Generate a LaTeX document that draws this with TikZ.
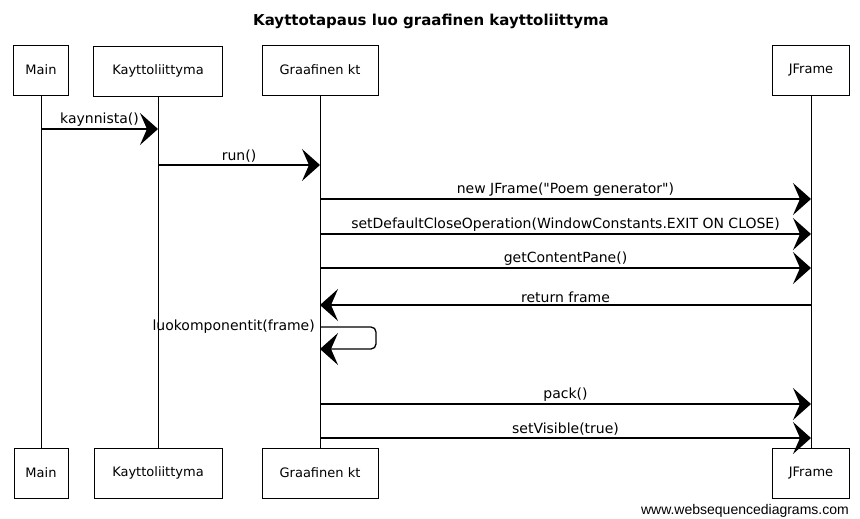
\documentclass[tikz,border=0pt]{standalone}
\usepackage{fontspec}
\setmainfont{DejaVu Sans}[Ligatures=TeXOff]
\newfontfamily\sitefont{Liberation Sans}
\usetikzlibrary{arrows.meta}

\begin{document}
\begin{tikzpicture}[x=1pt,y=-1pt,
    actor/.style = {draw, line width=0.9pt, minimum height=50pt, inner sep=0pt, font=\fontsize{13}{15}\selectfont},
    lifeline/.style = {line width=0.7pt},
    msg/.style = {line width=1.3pt, -{Stealth[length=18pt,width=32pt,inset=7pt]}},
    lbl/.style = {font=\fontsize{14}{16}\selectfont, inner sep=2pt}]
\useasboundingbox (0,0) rectangle (860,519);

\node[font=\bfseries\fontsize{15}{17}\selectfont] (title) at (431,21) {Kayttotapaus luo graafinen kayttoliittyma};

% actors, top and bottom
\begin{scope}
    \node[actor, minimum width=55pt] (mainTop) at (41,70) {Main};
    \node[actor, minimum width=129pt] (kliTop) at (158,71) {Kayttoliittyma};
    \node[actor, minimum width=116pt] (gktTop) at (320,70) {Graafinen kt};
    \node[actor, minimum width=77pt] (jfTop) at (811,70) {JFrame};
    \node[actor, minimum width=54pt] (mainBot) at (41,473) {Main};
    \node[actor, minimum width=128pt] (kliBot) at (158,473) {Kayttoliittyma};
    \node[actor, minimum width=116pt] (gktBot) at (320,473) {Graafinen kt};
    \node[actor, minimum width=77pt] (jfBot) at (811,473) {JFrame};
\end{scope}

\draw [lifeline] (mainTop) -- (mainBot);
\draw [lifeline] (kliTop) -- (kliBot);
\draw [lifeline] (gktTop) -- (gktBot);
\draw [lifeline] (jfTop) -- (jfBot);

% points on the lifelines
\coordinate (m1) at (41,129);   \coordinate (k1) at (158,129);
\coordinate (k2) at (158,165);  \coordinate (g2) at (320,165);
\coordinate (g3) at (320,199);  \coordinate (j3) at (811,199);
\coordinate (g4) at (320,234);  \coordinate (j4) at (811,234);
\coordinate (g5) at (320,268);  \coordinate (j5) at (811,268);
\coordinate (j6) at (811,305);  \coordinate (g6) at (320,305);
\coordinate (g7) at (320,327);  \coordinate (g8) at (320,349);
\coordinate (g9) at (320,404);  \coordinate (j9) at (811,404);
\coordinate (g10) at (320,438); \coordinate (j10) at (811,438);

\draw [msg] (m1) -- node[lbl, above] (tKaynnista) {kaynnista()} (k1);
\draw [msg] (k2) -- node[lbl, above] (tRun) {run()} (g2);
\draw [msg] (g3) -- node[lbl, above] (tNew) {new JFrame("Poem generator")} (j3);
\draw [msg] (g4) -- node[lbl, above] (tClose) {setDefaultCloseOperation(WindowConstants.EXIT ON CLOSE)} (j4);
\draw [msg] (g5) -- node[lbl, above] (tPane) {getContentPane()} (j5);
\draw [msg] (j6) -- node[lbl, above] (tReturn) {return frame} (g6);
\draw [msg, rounded corners=5pt] (g7) -- (376,327) -- (376,349) -- (g8);
\node[lbl, anchor=east] (tLuo) at (317,327) {luokomponentit(frame)};
\draw [msg] (g9) -- node[lbl, above] (tPack) {pack()} (j9);
\draw [msg] (g10) -- node[lbl, above] (tVisible) {setVisible(true)} (j10);

\node[font=\sitefont\fontsize{14}{16}\selectfont, anchor=east, inner sep=0pt] (site) at (849,511) {www.websequencediagrams.com};
\end{tikzpicture}
\end{document}
